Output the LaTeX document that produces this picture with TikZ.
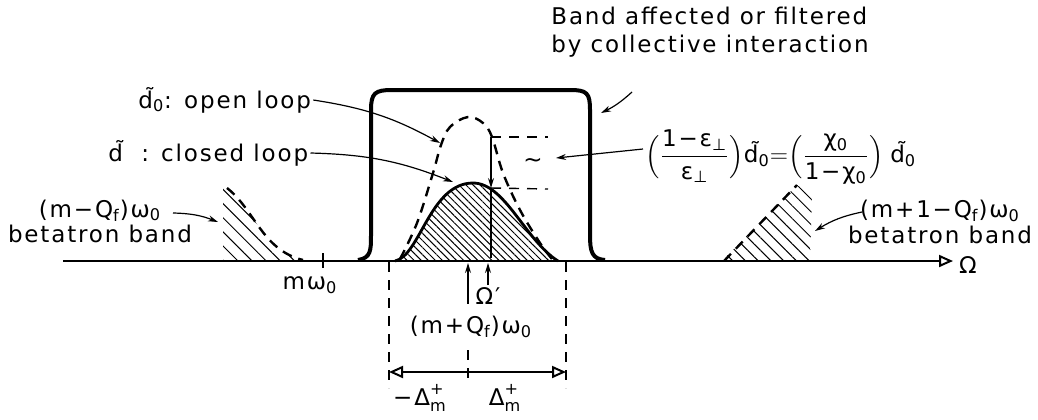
\documentclass[tikz,border=0pt]{standalone}
\usepackage{amsmath}
\usepackage{fontspec}
\setmainfont{DejaVu Sans}[LetterSpace=8]
\usetikzlibrary{arrows.meta, patterns.meta}

\begin{document}
\begin{tikzpicture}[
  x=0.5pt, y=-0.5pt,
  lbl/.style={inner sep=1pt, font=\fontsize{11.5}{13}\selectfont},
  bandbox/.style={line width=2pt, line join=round},
  closedloop/.style={line width=1.4pt},
  openloop/.style={line width=1.2pt, dash pattern=on 5pt off 3.5pt},
  guide/.style={line width=0.7pt, dash pattern=on 5pt off 4pt},
  arr/.style={-{Stealth[length=5pt, width=3pt]}, line width=0.6pt},
  axis/.style={-{Triangle[open, length=7pt, width=6pt]}, line width=1pt},
  span/.style={{Triangle[open, length=7pt, width=6pt]}-{Triangle[open, length=7pt, width=6pt]}, line width=1pt},
  hatch/.style={pattern={Lines[angle=-45, distance=#1, line width=0.5pt]}},
  hatch/.default=2.5pt
]
  \useasboundingbox (0,0) rectangle (1038,419);

  % frequency axis
  \coordinate (ax0) at (63,261);
  \coordinate (ax1) at (953,261);
  \draw[axis] (ax0) -- (ax1);
  \node[lbl] (omega) at (968,265) {Ω};
  \draw[line width=0.8pt] (323,253) -- (323,268);
  \node[lbl] (mw) at (310,285) {mω\textsubscript{0}};

  % lower betatron band
  \fill[hatch=5pt] (223,261) -- (223,188) -- (227,188) .. controls (255,210) and (262,250) .. (303,261) -- cycle;
  \draw[openloop] (227,188) .. controls (255,210) and (262,250) .. (303,260);
  \node[lbl, align=center, font=\fontsize{11.5}{12.5}\selectfont] (lowband) at (100,221) {(m−Q\textsubscript{f})ω\textsubscript{0}\\betatron band};
  \coordinate (lbtail) at (173,213);
  \coordinate (lbtip) at (218,222);
  \draw[arr] (lbtail) to[bend left=10] (lbtip);

  % upper betatron band
  \fill[hatch=4.5pt] (722,261) -- (797,185) -- (812,195) -- (810,261) -- cycle;
  \draw[openloop] (724,261) -- (797,185);
  \node[lbl, align=center] (upband) at (940,222) {(m+1−Q\textsubscript{f})ω\textsubscript{0}\\betatron band};
  \coordinate (ubtail) at (862,212);
  \coordinate (ubtip) at (815,231);
  \draw[arr] (ubtail) to[bend right=10] (ubtip);

  % band of the collective interaction
  \draw[bandbox] (358,260) .. controls (371,258) and (371,250) .. (371,235) -- (371,110)
    .. controls (371,93) and (375,90) .. (392,90) -- (570,90)
    .. controls (587,90) and (590,93) .. (590,110) -- (590,235)
    .. controls (590,252) and (592,259) .. (605,260);
  \node[lbl, align=left, anchor=west, font=\fontsize{11.5}{14}\selectfont] (title) at (549,32) {Band affected or filtered\\by collective interaction};
  \coordinate (ttail) at (632,92);
  \coordinate (ttip) at (601,113);
  \draw[arr] (ttail) to[bend left=8] (ttip);

  % closed loop response
  \fill[hatch] (395,261) .. controls (420,256) and (430,183) .. (473,183) .. controls (505,183) and (525,240) .. (558,261) -- cycle;
  \draw[closedloop] (395,261) .. controls (420,256) and (430,183) .. (473,183) .. controls (505,183) and (525,240) .. (558,261);

  % open loop response
  \draw[openloop] plot[smooth, tension=0.6] coordinates {(400,259) (417,223) (433,173) (441,145) (450,127) (468,117) (483,123) (492,137) (503,173) (520,210) (540,243) (552,259)};

  \node[lbl, anchor=west] (openlbl) at (136,100) {d̃\textsubscript{0}: open loop};
  \node[lbl, anchor=west] (closedlbl) at (106,153) {d̃ \ : closed loop};
  \coordinate (oltip) at (440,143);
  \coordinate (cltip) at (453,182);
  \draw[arr] (openlbl.east) to[bend left=10] (oltip);
  \draw[arr] (closedlbl.east) to[bend left=10] (cltip);

  % difference between the two
  \coordinate (pk) at (491,137);
  \coordinate (pc) at (491,188);
  \coordinate (pb) at (491,258);
  \draw[arr] (pk) -- (pc);
  \draw[line width=0.6pt] (pc) -- (pb);
  \draw[guide] (pk) -- (548,137);
  \draw[guide] (pc) -- (548,189);
  \node[lbl] (tld) at (533,163) {\textasciitilde};
  \node[lbl, anchor=west] (eqn) at (643,157) {$\Bigl(\dfrac{\text{1−ε\textsubscript{⊥}}}{\text{ε\textsubscript{⊥}}}\Bigr)\text{d̃\textsubscript{0}}{=}\Bigl(\dfrac{\text{χ\textsubscript{0}}}{\text{1−χ\textsubscript{0}}}\Bigr)\;\text{d̃\textsubscript{0}}$};
  \coordinate (eqtip) at (556,158);
  \draw[arr] ([yshift=4pt]eqn.west) -- (eqtip);

  % width of the band
  \coordinate (dl) at (389,372);
  \coordinate (dr) at (566,372);
  \draw[guide] (389,262) -- (389,388);
  \draw[guide] (566,262) -- (566,388);
  \draw[guide] (468,350) -- (468,383);
  \draw[span] (dl) -- (dr);
  \node[lbl] (cq) at (471,327) {(m+Q\textsubscript{f})ω\textsubscript{0}};
  \node[lbl] (omegap) at (488,296) {Ω′};
  \coordinate (cqtip) at (468,263);
  \coordinate (optip) at (488,263);
  \draw[arr] ([yshift=5pt]cq.north -| cqtip) -- (cqtip);
  \draw[arr] (omegap.north) -- (optip);
  \node[lbl] (dminus) at (420,398) {$\text{−Δ}^{\text{+}}_{\text{m}}$};
  \node[lbl] (dplus) at (505,398) {$\text{Δ}^{\text{+}}_{\text{m}}$};
\end{tikzpicture}
\end{document}
